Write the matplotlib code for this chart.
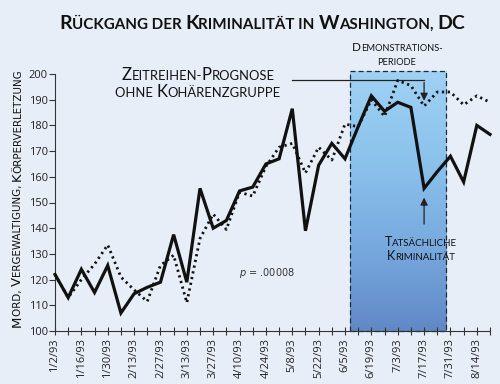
import numpy as np
import matplotlib
matplotlib.use("Agg")
import matplotlib.pyplot as plt
from matplotlib.colors import LinearSegmentedColormap
from matplotlib.font_manager import FontProperties
from matplotlib.transforms import IdentityTransform

# weekly crime counts, 1/2/93 .. 8/21/93
weeks = np.arange(34)
actual = [122, 113, 124, 115, 125.5, 107, 114.5, 117, 119, 137.5, 119, 155.5, 140, 143,
          154.5, 156, 165, 167, 186.5, 139, 164.5, 173, 167, 179.5, 191.5, 185.5, 189, 187,
          155.5, 162, 168, 158, 180, 176.5]
forecast = [122, 113, 120, 126, 133.5, 121, 116, 111.5, 125.5, 129.5, 111, 136, 145.5, 139.5,
            154, 152.5, 164, 171.5, 173, 161.5, 171.5, 166.5, 180.5, 179.5, 190, 183.5, 197.5,
            195.5, 187.5, 193, 193, 188, 191.5, 189]
tick_labels = ["1/2/93", "1/16/93", "1/30/93", "2/13/93", "2/27/93", "3/13/93", "3/27/93",
               "4/10/93", "4/24/93", "5/8/93", "5/22/93", "6/5/93", "6/19/93", "7/3/93",
               "7/17/93", "7/31/93", "8/14/93"]
demo_start, demo_end = 22.35, 29.65

BG = "#e8eef8"
FAM = "Lato"


def smallcaps(fig, x, y, s, size, ha="center", rotation=0, weight="normal",
              color="#111111", family=FAM):
    """draw s in fake small caps at pixel (x, y) baseline"""
    renderer = fig.canvas.get_renderer()
    runs = []
    cur, cur_low = "", None
    for ch in s:
        low = ch.islower()
        if cur_low is None or low == cur_low or ch in " ,-":
            cur += ch
            if cur_low is None and ch not in " ,-":
                cur_low = low
        else:
            runs.append((cur, cur_low))
            cur, cur_low = ch, low
    runs.append((cur, cur_low))
    pieces = []
    for txt, low in runs:
        sz = size * 0.78 if low else size
        fp = FontProperties(family=family, size=sz, weight=weight)
        w_bar = renderer.get_text_width_height_descent("|", fp, ismath=False)[0]
        w = renderer.get_text_width_height_descent(txt.upper() + "|", fp, ismath=False)[0] - w_bar
        pieces.append((txt.upper(), fp, w))
    total = sum(p[2] for p in pieces)
    ang = np.deg2rad(rotation)
    d = np.array([np.cos(ang), np.sin(ang)])
    off = {"center": -total / 2, "left": 0, "right": -total}[ha]
    pos = np.array([x, y]) + d * off
    for txt, fp, w in pieces:
        fig.text(pos[0], pos[1], txt, fontproperties=fp, transform=IdentityTransform(),
                 ha="left", va="baseline", rotation=rotation, rotation_mode="anchor", color=color)
        pos = pos + d * w


W, H = 500, 384
fig = plt.figure(figsize=(5, 3.84), dpi=100, facecolor=BG)
ax = fig.add_axes([55 / W, 1 - 331 / H, 435 / W, 257 / H])
ax.set_facecolor(BG)

# demonstration period box with gradient
cmap = LinearSegmentedColormap.from_list("demo", ["#9fd1f3", "#8cc3ec", "#78aadf", "#6088c6"])
grad = np.linspace(0, 1, 256).reshape(-1, 1)
ax.imshow(grad, extent=(demo_start, demo_end, 100, 201), cmap=cmap, aspect="auto",
          origin="upper", zorder=0, clip_on=False)
ax.plot([demo_start, demo_start, demo_end, demo_end, demo_start], [100, 201, 201, 100, 100],
        color="#1a2a40", lw=0.9, ls=(0, (4, 2.5)), clip_on=False, zorder=1)

ax.plot(weeks, forecast, color="#111111", lw=2.0, ls=(0, (0.8, 1.3)), zorder=3,
        clip_on=False)
ax.plot(weeks, actual, color="#111111", lw=2.3, zorder=4, solid_joinstyle="miter",
        clip_on=False)

ax.set_xlim(0, 33)
ax.set_ylim(100, 200)
for s in ["top", "right"]:
    ax.spines[s].set_visible(False)
ax.spines["left"].set_color("#333333")
ax.spines["bottom"].set_color("#333333")
ax.set_yticks(np.arange(100, 201, 10))
ax.set_xticks(np.arange(0, 33, 2))
ax.set_xticklabels(tick_labels, rotation=90)
ax.set_xticks(np.arange(1, 34, 2), minor=True)
ax.tick_params(axis="x", which="both", direction="inout", length=6, width=0.8,
               color="#333333", labelsize=8, pad=2, labelcolor="#222222")
ax.tick_params(axis="y", direction="out", length=4, width=0.8, color="#333333",
               labelsize=8, pad=1, labelcolor="#222222")
for lab in ax.get_xticklabels() + ax.get_yticklabels():
    lab.set_fontfamily("Open Sans")

# arrows
ax.annotate("", xy=(28.0, 188.5), xytext=(28.0, 197.8),
            arrowprops=dict(arrowstyle="-|>", color="#222222", lw=0.9, mutation_scale=11))
ax.plot([18.0, 28.0], [197.8, 197.8], color="#222222", lw=0.9)
ax.annotate("", xy=(28.0, 153.0), xytext=(28.0, 140.5),
            arrowprops=dict(arrowstyle="-|>", color="#222222", lw=0.9, mutation_scale=11))

ax.text(16.1, 122.5, r"$p$ = .00008", fontsize=7, color="#333333", family="DejaVu Sans",
        ha="center", va="center")

fig.canvas.draw()
smallcaps(fig, 262, H - 29, "Rückgang der Kriminalität in Washington, DC", 14, weight="bold")
smallcaps(fig, 397, H - 51, "Demonstrations-", 8.5)
smallcaps(fig, 397, H - 65, "periode", 8.5)
smallcaps(fig, 198, H - 80, "Zeitreihen-Prognose", 12)
smallcaps(fig, 198, H - 97, "ohne Kohärenzgruppe", 12)
smallcaps(fig, 421, H - 246, "Tatsächliche", 9)
smallcaps(fig, 421, H - 260, "Kriminalität", 9)
smallcaps(fig, 21, H - 198, "Mord, Vergewaltigung, Körperverletzung", 9.5, rotation=90,
          family="Liberation Sans Narrow")

fig.savefig("out.png", dpi=100, facecolor=BG)
